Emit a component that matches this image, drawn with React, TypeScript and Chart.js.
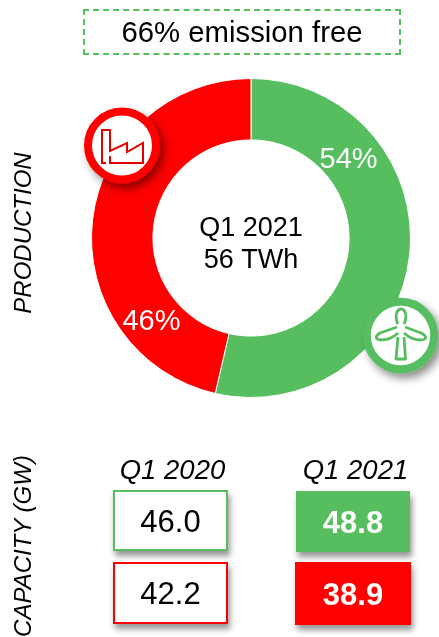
import React, { useEffect, useRef } from "react";
import { Chart, registerables } from "chart.js";

Chart.register(...registerables);

const GREEN = "#57BE60";
const RED = "#FF0000";
const FONT = '"Liberation Sans", Arial, sans-serif';

const productionLabels = ["Emission free", "Other"];
const productionValues = [53.6, 46.4];
const productionText = ["54%", "46%"];
const headline = "66% emission free";
const centerLines = ["Q1 2021", "56 TWh"];
const periods = ["Q1 2020", "Q1 2021"];
const capacity2020 = ["46.0", "42.2"];
const capacity2021 = ["48.8", "38.9"];

const sliceLabels = {
  id: "sliceLabels",
  afterDatasetsDraw(chart: any) {
    const { ctx } = chart;
    const arcs = chart.getDatasetMeta(0).data;
    ctx.save();
    ctx.font = `29px ${FONT}`;
    ctx.fillStyle = "#fff";
    ctx.textAlign = "center";
    ctx.textBaseline = "middle";
    arcs.forEach((arc: any, i: number) => {
      const a = i === 0 ? -0.675 : Math.PI - 0.7;
      const r = arc.outerRadius * 0.8;
      ctx.fillText(productionText[i], arc.x - 2 + r * Math.cos(a), arc.y + r * Math.sin(a) + 1.5);
    });
    ctx.fillStyle = "#000";
    ctx.font = `27px ${FONT}`;
    const a = arcs[0];
    ctx.fillText(centerLines[0], a.x, a.y - 9);
    ctx.fillText(centerLines[1], a.x, a.y + 23);
    ctx.restore();
  },
};

const abs = (s: React.CSSProperties): React.CSSProperties => ({ position: "absolute", boxSizing: "border-box", ...s });

function Cell({ x, y, w, h, text, color, filled }: any) {
  return (
    <div
      style={abs({
        left: x, top: y, width: w, height: h,
        background: filled ? color : "#fff",
        border: filled ? "none" : `2px solid ${color}`,
        boxShadow: "2px 5px 6px rgba(0,0,0,0.42)",
        color: filled ? "#fff" : "#000",
        font: `${filled ? "bold " : ""}31px ${FONT}`,
        paddingTop: 2,
        display: "flex", alignItems: "center", justifyContent: "center",
      })}
    >
      {text}
    </div>
  );
}

function Vertical({ cx, cy, text, size }: any) {
  return (
    <div
      style={abs({
        left: cx, top: cy, whiteSpace: "nowrap",
        font: `italic ${size}px ${FONT}`, color: "#000",
        transform: "translate(-50%,-50%) rotate(-90deg)",
      })}
    >
      {text}
    </div>
  );
}

function Icons() {
  return (
    <svg width={439} height={637} style={abs({ left: 0, top: 0 })}>
      <defs>
        <filter id="sh" x="-30%" y="-30%" width="170%" height="170%">
          <feDropShadow dx="4" dy="5" stdDeviation="4" floodColor="#000" floodOpacity="0.45" />
        </filter>
      </defs>
      <circle cx={122} cy={145.5} r={34} fill="#fff" stroke={RED} strokeWidth={8} filter="url(#sh)" />
      <g fill="none" stroke="#E00000" strokeWidth={2}>
        <path d="M106,163 H102 V130 H110 V151 L127,143 V152 L143,143 V163 H110 V156" />
      </g>
      <circle cx={400.5} cy={335.5} r={33.7} fill="#fff" stroke={GREEN} strokeWidth={8} filter="url(#sh)" />
      <g fill="none" stroke={GREEN} strokeWidth={2.8} strokeLinejoin="round">
        <path d="M398,337 L396,359 H405.5 L404,337" />
        <path d="M398,324 C394,316 397,309 401,309 C405,309 408,316 404,324" />
        <path d="M397,327 L380,333 C375,336 375,339 380,340 C388,340 394,337 398,333" />
        <path d="M405,327 L421,333 C427,336 427,339 422,340 C414,340 408,337 404,333" />
      </g>
    </svg>
  );
}

export default function App() {
  const ref = useRef<HTMLCanvasElement>(null);
  useEffect(() => {
    const chart = new Chart(ref.current!, {
      type: "doughnut",
      data: {
        labels: productionLabels,
        datasets: [{ data: productionValues, backgroundColor: [GREEN, RED], borderColor: "#fff", borderWidth: 1 }],
      },
      options: {
        animation: false,
        responsive: false,
        cutout: "61.5%",
        layout: { padding: 0 },
        plugins: { legend: { display: false }, tooltip: { enabled: false } },
      },
      plugins: [sliceLabels],
    });
    return () => chart.destroy();
  }, []);

  return (
    <div style={abs({ left: 0, top: 0, width: 439, height: 637, background: "#fff", overflow: "hidden" })}>
      <canvas ref={ref} width={320} height={320} style={abs({ left: 91, top: 78, width: 320, height: 320 })} />
      <Icons />
      <div
        style={abs({
          left: 83, top: 9, width: 318, height: 46,
          border: `2px dashed ${GREEN}`,
          font: `29.3px ${FONT}`, color: "#000",
          display: "flex", alignItems: "center", justifyContent: "center",
        })}
      >
        {headline}
      </div>
      <Vertical cx={23} cy={233} size={24} text="PRODUCTION" />
      <Vertical cx={23} cy={545.5} size={24} text="CAPACITY (GW)" />
      <div style={abs({ left: 115, width: 115, top: 454, textAlign: "center", font: `italic 27.5px ${FONT}` })}>{periods[0]}</div>
      <div style={abs({ left: 298, width: 115, top: 454, textAlign: "center", font: `italic 27.5px ${FONT}` })}>{periods[1]}</div>
      <Cell x={113} y={490} w={115} h={61} text={capacity2020[0]} color={GREEN} />
      <Cell x={113} y={562} w={115} h={62} text={capacity2020[1]} color={RED} />
      <Cell x={296} y={491} w={114} h={61} text={capacity2021[0]} color={GREEN} filled />
      <Cell x={295} y={562} w={116} h={63} text={capacity2021[1]} color={RED} filled />
    </div>
  );
}
